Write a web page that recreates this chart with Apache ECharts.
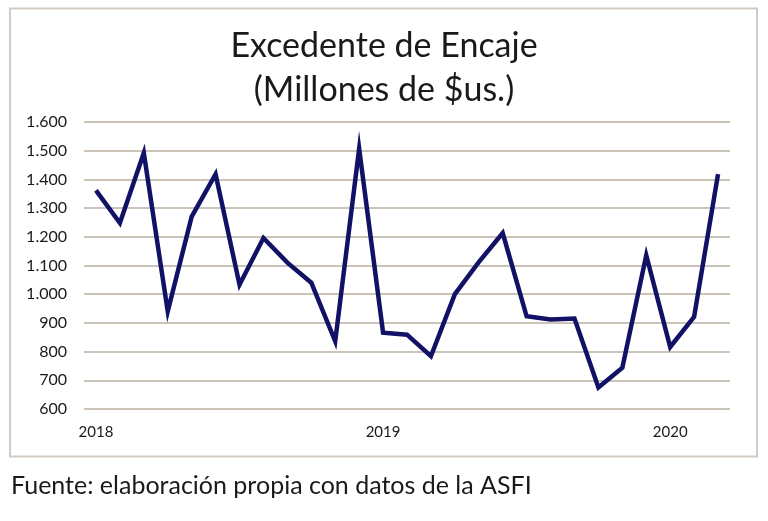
<!DOCTYPE html>
<html><head><meta charset="utf-8">
<script src="https://cdn.jsdelivr.net/npm/echarts@6/dist/echarts.min.js"></script>
<style>html,body{margin:0;padding:0;background:#fff}#c{width:768px;height:521px}</style>
</head><body><div id="c"></div>
<script>
const months = ["2018-01","2018-02","2018-03","2018-04","2018-05","2018-06","2018-07","2018-08","2018-09","2018-10","2018-11","2018-12",
"2019-01","2019-02","2019-03","2019-04","2019-05","2019-06","2019-07","2019-08","2019-09","2019-10","2019-11","2019-12",
"2020-01","2020-02","2020-03"];
const excedente = [1362,1248,1492,940,1270,1418,1033,1196,1110,1040,836,1507,
866,859,784,1000,1112,1213,923,912,915,675,744,1136,
816,921,1418];
const yMin = 600, yMax = 1600, yStep = 100;
const titleLines = ["Excedente de Encaje","(Millones de $us.)"];
const source = "Fuente: elaboración propia con datos de la ASFI";

const font = "Lato, 'Open Sans', sans-serif";
const chart = echarts.init(document.getElementById('c'));
chart.setOption({
  animation:false,
  title:{text:titleLines.join("\n"), left:'center', top:19,
    textStyle:{fontFamily:font, fontSize:34, fontWeight:'normal', color:'#1a1a1a', lineHeight:44}},
  grid:{left:84, right:38, top:122, bottom:112},
  xAxis:{type:'category', data:months, boundaryGap:true,
    axisLine:{show:false}, axisTick:{show:false},
    axisLabel:{interval:0, margin:16, fontFamily:font, fontSize:15, color:'#1a1a1a',
      formatter:function(v){return v.endsWith("-01") ? v.slice(0,4) : "";}}},
  yAxis:{type:'value', min:yMin, max:yMax, interval:yStep,
    axisLine:{show:false}, axisTick:{show:false},
    splitLine:{lineStyle:{color:'#cbc2b8', width:2}},
    axisLabel:{margin:17, fontFamily:font, fontSize:16, color:'#1a1a1a',
      formatter:function(v){return v.toString().replace(/\B(?=(\d{3})+(?!\d))/g,".");}}},
  series:[{type:'line', data:excedente, symbol:'none',
    lineStyle:{color:'#111166', width:4.5, join:'miter'}}],
  graphic:[
    {type:'rect', shape:{x:10,y:8.5,width:747,height:448}, style:{fill:'none', stroke:'#d3cbc3', lineWidth:2}, z:-1},
    {type:'text', left:11, top:473, style:{text:source, fontFamily:font, fontSize:25, fill:'#1a1a1a'}}
  ]
});
</script></body></html>
